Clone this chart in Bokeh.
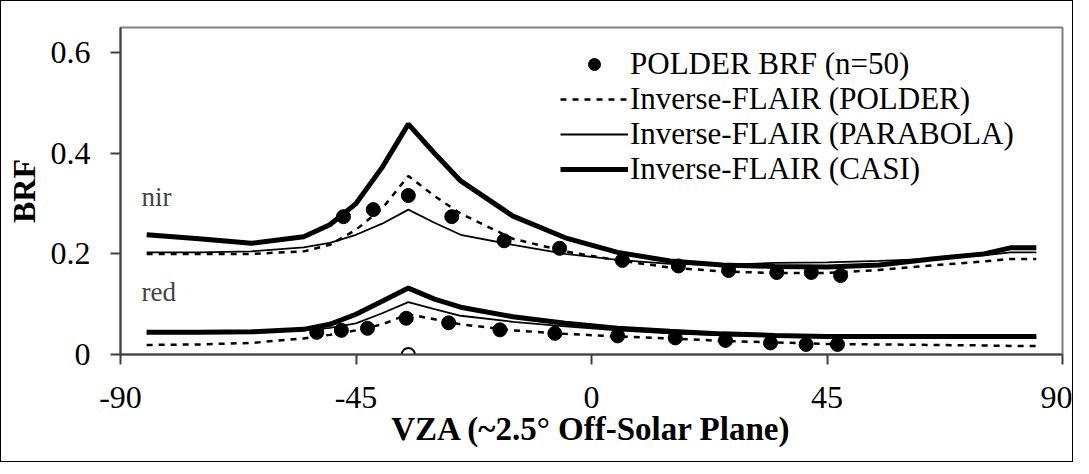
from bokeh.plotting import figure
from bokeh.models import (Range1d, FixedTicker, CustomJSTickFormatter, Legend, LegendItem, Label)
from bokeh.embed import file_html
from bokeh.resources import INLINE

# ---- data ----
line_x = [-85, -75, -65, -55, -50, -45, -40, -35, -30, -25, -15, -5, 5, 15, 25, 35, 45, 55, 65, 75, 80, 85]

nir_casi = [0.238, 0.230, 0.221, 0.234, 0.258, 0.300, 0.372, 0.458, 0.400, 0.345, 0.275, 0.232, 0.203, 0.186, 0.178, 0.175, 0.174, 0.178, 0.190, 0.200, 0.212, 0.212]
nir_parabola = [0.203, 0.203, 0.205, 0.213, 0.222, 0.238, 0.260, 0.288, 0.262, 0.238, 0.218, 0.200, 0.188, 0.180, 0.178, 0.182, 0.183, 0.186, 0.190, 0.197, 0.203, 0.203]
nir_polder = [0.200, 0.200, 0.200, 0.205, 0.218, 0.248, 0.290, 0.355, 0.315, 0.280, 0.230, 0.205, 0.187, 0.173, 0.165, 0.162, 0.162, 0.168, 0.177, 0.185, 0.190, 0.190]

red_casi = [0.044, 0.044, 0.045, 0.050, 0.060, 0.080, 0.106, 0.132, 0.110, 0.094, 0.075, 0.062, 0.052, 0.046, 0.041, 0.038, 0.036, 0.036, 0.036, 0.036, 0.036, 0.036]
red_parabola = [0.043, 0.043, 0.044, 0.048, 0.053, 0.062, 0.082, 0.104, 0.090, 0.077, 0.065, 0.056, 0.048, 0.042, 0.038, 0.036, 0.035, 0.035, 0.034, 0.034, 0.034, 0.034]
red_polder = [0.019, 0.020, 0.023, 0.032, 0.039, 0.048, 0.060, 0.080, 0.070, 0.060, 0.048, 0.041, 0.036, 0.032, 0.027, 0.024, 0.021, 0.020, 0.019, 0.018, 0.017, 0.017]

nir_pts_x = [-47.4, -41.7, -35.0, -26.7, -16.7, -6.1, 5.9, 16.6, 26.2, 35.4, 42.0, 47.6]
nir_pts_y = [0.274, 0.288, 0.316, 0.274, 0.226, 0.211, 0.187, 0.176, 0.167, 0.163, 0.163, 0.157]
red_pts_x = [-52.5, -47.8, -42.8, -35.4, -27.3, -17.5, -7.0, 5.0, 16.0, 25.6, 34.2, 41.0, 47.0]
red_pts_y = [0.044, 0.048, 0.052, 0.072, 0.063, 0.049, 0.042, 0.037, 0.033, 0.028, 0.023, 0.020, 0.020]

hotspot_x = [-35]
hotspot_y = [0]

x_ticks = [-90, -45, 0, 45, 90]
y_ticks = [0, 0.2, 0.4, 0.6]

legend_labels = ["POLDER BRF (n=50)", "Inverse-FLAIR (POLDER)",
                 "Inverse-FLAIR (PARABOLA)", "Inverse-FLAIR (CASI)"]

FONT = "Liberation Serif"

p = figure(width=1073, height=462, output_backend="svg", toolbar_location=None,
           x_range=Range1d(-90, 90), y_range=Range1d(0, 0.65),
           min_border_left=119, min_border_right=12, min_border_top=26, min_border_bottom=109)
p.styles = {"border": "1px solid black"}

p.xgrid.visible = False
p.ygrid.visible = False
p.outline_line_color = "#808080"
p.outline_line_width = 2

for ax in (p.xaxis[0], p.yaxis[0]):
    ax.axis_line_color = "#404040"
    ax.axis_line_width = 2
    ax.major_tick_line_color = "#404040"
    ax.major_tick_line_width = 2
    ax.major_tick_out = 10
    ax.major_tick_in = 0
    ax.minor_tick_out = 0
    ax.minor_tick_in = 0
    ax.major_label_text_font = FONT
    ax.major_label_text_font_size = "32px"
    ax.major_label_text_color = "black"
    ax.axis_label_text_font = FONT
    ax.axis_label_text_font_style = "bold"
    ax.axis_label_text_color = "black"

p.xaxis.axis_label_text_font_size = "33px"
p.yaxis.axis_label_text_font_size = "32px"
p.xaxis.ticker = FixedTicker(ticks=x_ticks)
p.yaxis.ticker = FixedTicker(ticks=y_ticks)
p.xaxis.formatter = CustomJSTickFormatter(code="return tick.toString();")
p.yaxis.formatter = CustomJSTickFormatter(code="return tick == 0 ? '0' : tick.toFixed(1);")
p.xaxis.major_label_standoff = 22
p.yaxis.major_label_standoff = 20
p.xaxis.axis_label = "VZA (~2.5\u00b0 Off-Solar Plane)"
p.yaxis.axis_label = "BRF"
p.xaxis.axis_label_standoff = 0
p.yaxis.axis_label_standoff = 6

# lines
r_nir_casi = p.line(line_x, nir_casi, line_color="black", line_width=5)
r_nir_par = p.line(line_x, nir_parabola, line_color="black", line_width=1.8)
r_nir_pol = p.line(line_x, nir_polder, line_color="black", line_width=2.5, line_dash="6 6")
p.line(line_x, red_casi, line_color="black", line_width=5)
p.line(line_x, red_parabola, line_color="black", line_width=1.8)
p.line(line_x, red_polder, line_color="black", line_width=2.5, line_dash="6 6")

r_pts = p.scatter(nir_pts_x, nir_pts_y, size=14, marker="circle", fill_color="black", line_color="black")
p.scatter(red_pts_x, red_pts_y, size=14, marker="circle", fill_color="black", line_color="black")
p.scatter(hotspot_x, hotspot_y, size=13, marker="circle", fill_color="white", line_color="black", line_width=2)

p.add_layout(Label(x=-86, y=0.314, text="nir", text_font=FONT, text_font_size="27px",
                   text_baseline="middle", text_align="left"))
p.add_layout(Label(x=-86, y=0.124, text="red", text_font=FONT, text_font_size="27px",
                   text_baseline="middle", text_align="left"))

# one legend per row so the row spacing can match the reference
legend_renderers = [r_pts, r_nir_pol, r_nir_par, r_nir_casi]
legend_y = [272, 237, 202, 167]
for lab, rend, ly in zip(legend_labels, legend_renderers, legend_y):
    lg = Legend(items=[LegendItem(label=lab, renderers=[rend])], location=(440, ly))
    lg.padding = 0
    lg.margin = 0
    lg.spacing = 0
    lg.glyph_width = 68
    lg.glyph_height = 30
    lg.label_height = 30
    lg.label_standoff = 2
    lg.label_text_font = FONT
    lg.label_text_font_size = "31px"
    lg.label_text_color = "black"
    lg.border_line_alpha = 0
    lg.background_fill_alpha = 0
    p.add_layout(lg, "center")

open("out.html", "w").write(file_html(p, INLINE))
